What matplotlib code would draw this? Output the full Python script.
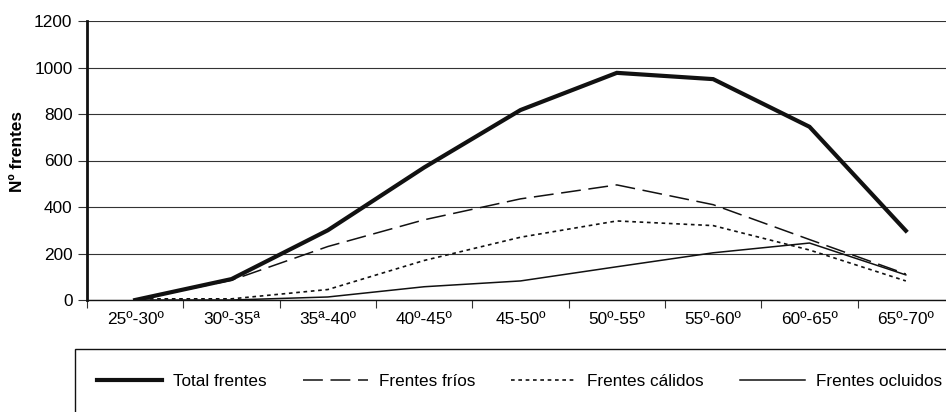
import numpy as np
import matplotlib.pyplot as plt
from matplotlib.patches import Rectangle

plt.rcParams['font.family'] = ['Liberation Sans', 'DejaVu Sans']

categories = ['25º-30º', '30º-35ª', '35ª-40º', '40º-45º', '45-50º',
              '50º-55º', '55º-60º', '60º-65º', '65º-70º']
total = [0, 90, 300, 570, 817, 977, 950, 745, 298]
frios = [0, 85, 230, 345, 435, 495, 410, 260, 112]
calidos = [5, 5, 45, 170, 270, 340, 320, 215, 82]
ocluidos = [0, 0, 13, 57, 82, 143, 203, 245, 108]

fig = plt.figure(figsize=(9.46, 4.12), dpi=100)
ax = fig.add_axes([87/946, 1-300/412, 867/946, 279/412])

x = np.arange(len(categories))
ax.plot(x, total, color='#111111', lw=3.0, label='Total frentes', solid_joinstyle='miter')
ax.plot(x, frios, color='#111111', lw=1.1, dashes=(13, 5), label='Frentes fríos')
ax.plot(x, calidos, color='#111111', lw=1.2, dashes=(2.2, 2.2), label='Frentes cálidos')
ax.plot(x, ocluidos, color='#111111', lw=1.1, label='Frentes ocluidos')

ax.set_xlim(-0.5, 8.5)
ax.set_ylim(0, 1200)
ax.set_yticks(np.arange(0, 1201, 200))
ax.yaxis.grid(True, color='#333333', lw=0.8)
ax.set_axisbelow(True)

ax.set_xticks(x)
ax.set_xticklabels(categories, fontsize=12.4)
ax.set_xticks(np.arange(-0.5, 8.6, 1), minor=True)
ax.tick_params(axis='x', which='major', length=0, pad=9)
ax.tick_params(axis='x', which='minor', length=6, width=0.8, color='#333333')
ax.tick_params(axis='y', length=6.5, width=0.8, color='#333333', labelsize=12.4, pad=4)

for s in ['top', 'right']:
    ax.spines[s].set_visible(False)
ax.spines['left'].set_linewidth(2.0)
ax.spines['left'].set_color('#111111')
ax.spines['bottom'].set_linewidth(1.0)
ax.spines['bottom'].set_color('#111111')

fig.text(18/946, 1-151/412, 'Nº frentes', rotation=90, fontsize=12.4,
         fontweight='bold', ha='center', va='center')

fig.patches.append(Rectangle((75/946, -0.2), 1.0, 0.2 + 1-349/412,
                             transform=fig.transFigure, fill=False,
                             edgecolor='#111111', lw=1.0))
fig.legend(loc='center left', bbox_to_anchor=(90/946, 1-381/412), ncol=4,
           frameon=False, fontsize=12.3, handlelength=3.8, handletextpad=0.65,
           columnspacing=2.12, borderaxespad=0)

fig.savefig('out.png', dpi=100)
